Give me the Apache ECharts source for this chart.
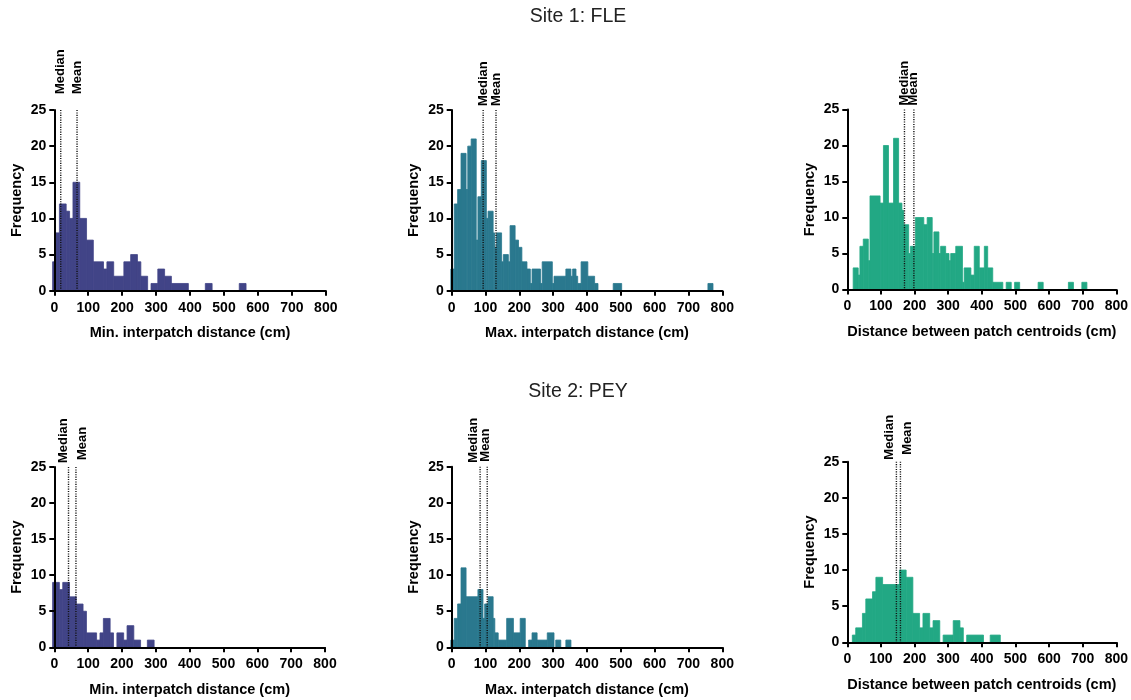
<!DOCTYPE html>
<html><head><meta charset="utf-8">
<script src="https://cdn.jsdelivr.net/npm/echarts@6/dist/echarts.min.js"></script>
<style>html,body{margin:0;padding:0;background:#fff}#chart{width:1131px;height:700px}</style>
</head><body><div id="chart"></div>
<script>
// ---------------- data ----------------
const siteTitles = ['Site 1: FLE', 'Site 2: PEY'];
const xAxisTitles = ['Min. interpatch distance (cm)', 'Max. interpatch distance (cm)', 'Distance between patch centroids (cm)'];
const yAxisTitle = 'Frequency';
const xTicks = [0, 100, 200, 300, 400, 500, 600, 700, 800];
const yTicks = [0, 5, 10, 15, 20, 25];
const statNames = ['Median', 'Mean'];

// Site 1: FLE  (bin edges in cm, frequency per bin)
const fleMinEdges = [-5,5,15,35,45,55,75,95,115,145,155,175,205,225,245,255,275,285,305,325,345,395,445,465,545,565];
const fleMinCounts = [4,8,12,11,10,15,10,7,4,3,4,2,4,5,4,2,0,1,3,2,1,0,1,0,1];
const fleMinStats = [19, 67];

const fleMaxEdges = [-2.5,7.5,17.5,27.5,42.5,47.5,57.5,72.5,77.5,87.5,102.5,107.5,122.5,127.5,132.5,147.5,152.5,167.5,172.5,187.5,197.5,207.5,222.5,232.5,237.5,262.5,267.5,297.5,302.5,337.5,352.5,357.5,367.5,372.5,382.5,402.5,422.5,432.5,477.5,502.5,757.5,772.5];
const fleMaxCounts = [3,12,14,19,14,20,21,7,13,18,10,11,8,6,8,4,5,4,9,7,6,4,3,1,3,1,4,1,2,3,2,3,2,1,4,2,1,0,1,0,1];
const fleMaxStats = [93, 131];

const fleCenEdges = [17.5,32.5,37.5,47.5,62.5,67.5,97.5,107.5,122.5,137.5,152.5,162.5,167.5,182.5,187.5,202.5,227.5,237.5,252.5,257.5,272.5,277.5,292.5,302.5,307.5,322.5,342.5,347.5,367.5,377.5,392.5,407.5,417.5,432.5,462.5,472.5,487.5,497.5,512.5,567.5,582.5,657.5,672.5,697.5,712.5];
const fleCenCounts = [3,2,6,7,4,13,12,20,12,21,12,11,9,5,6,10,9,10,5,8,5,6,5,4,5,6,1,3,2,6,3,6,3,1,0,1,0,1,0,1,0,1,0,1];
const fleCenStats = [170, 198];

// Site 2: PEY
const peyMinEdges = [-5,15,25,45,65,85,95,125,135,145,165,175,185,205,215,235,255,275,295];
const peyMinCounts = [9,8,9,7,6,5,2,1,2,4,2,0,2,1,3,1,0,1];
const peyMinStats = [42, 64];

const peyMaxEdges = [-2.5,7.5,17.5,27.5,42.5,77.5,92.5,97.5,107.5,122.5,127.5,137.5,162.5,182.5,202.5,217.5,227.5,237.5,252.5,282.5,302.5,307.5,322.5,337.5,352.5];
const peyMaxCounts = [1,4,6,11,7,8,4,6,7,4,2,1,4,2,4,0,1,2,1,2,0,1,0,1];
const peyMaxStats = [84, 105];

const peyCenEdges = [15,25,45,55,75,85,105,155,175,195,215,225,245,255,275,285,315,335,345,355,405,425,455];
const peyCenCounts = [1,2,4,6,7,9,8,10,9,4,2,4,2,3,0,1,3,2,0,1,0,1];
const peyCenStats = [146, 158];

// ---------------- layout / style ----------------
const FONT = '"Liberation Sans", Arial, Helvetica, sans-serif';
const fills = ['#414487', '#2A788E', '#22A884'];
const grids = [
  {left: 54.3, top: 110, width: 271.5, height: 180.7},
  {left: 451.7, top: 110, width: 270.6, height: 180.7},
  {left: 847.3, top: 109.5, width: 271, height: 180},
  {left: 54.3, top: 467, width: 270.7, height: 180.3},
  {left: 451.7, top: 466.7, width: 270.6, height: 180.6},
  {left: 847.3, top: 461.7, width: 271, height: 180.6}
];
// label placement (px): gap above line top, horizontal shift of each label
const statLabelLayout = [
  {gap: [16, 16], dx: [0, 0]},
  {gap: [4, 4], dx: [0, 0]},
  {gap: [4, 4], dx: [0, 0]},
  {gap: [4, 7], dx: [-5, 6]},
  {gap: [4, 5], dx: [-7, -2]},
  {gap: [2, 7], dx: [-7, 7]}
];
const titleLayout = [{x: 578, y: 17}, {x: 578, y: 392}];

const panels = [
  {edges: fleMinEdges, counts: fleMinCounts, stats: fleMinStats, kind: 0},
  {edges: fleMaxEdges, counts: fleMaxCounts, stats: fleMaxStats, kind: 1},
  {edges: fleCenEdges, counts: fleCenCounts, stats: fleCenStats, kind: 2},
  {edges: peyMinEdges, counts: peyMinCounts, stats: peyMinStats, kind: 0},
  {edges: peyMaxEdges, counts: peyMaxCounts, stats: peyMaxStats, kind: 1},
  {edges: peyCenEdges, counts: peyCenCounts, stats: peyCenStats, kind: 2}
];

const yMax = yTicks[yTicks.length - 1];
const chart = echarts.init(document.getElementById('chart'), null, {renderer: 'canvas'});

const xAxes = panels.map((p, i) => ({
  type: 'value', gridIndex: i,
  min: xTicks[0], max: xTicks[xTicks.length - 1], interval: xTicks[1] - xTicks[0],
  name: xAxisTitles[p.kind], nameLocation: 'middle', nameGap: 35,
  nameTextStyle: {fontFamily: FONT, fontWeight: 'bold', fontSize: 14.5, color: '#000'},
  axisLine: {show: true, onZero: false, lineStyle: {color: '#000', width: 2}},
  axisTick: {show: true, length: 5, lineStyle: {color: '#000', width: 2}},
  axisLabel: {margin: 10, fontFamily: FONT, fontWeight: 'bold', fontSize: 14, color: '#000'},
  splitLine: {show: false}, z: 5
}));
const yAxes = panels.map((p, i) => ({
  type: 'value', gridIndex: i,
  min: yTicks[0], max: yMax, interval: yTicks[1] - yTicks[0],
  name: yAxisTitle, nameLocation: 'middle', nameGap: 30,
  nameTextStyle: {fontFamily: FONT, fontWeight: 'bold', fontSize: 14.5, color: '#000'},
  axisLine: {show: true, lineStyle: {color: '#000', width: 2}},
  axisTick: {show: true, length: 5, lineStyle: {color: '#000', width: 2}},
  axisLabel: {margin: 8, fontFamily: FONT, fontWeight: 'bold', fontSize: 14, color: '#000'},
  splitLine: {show: false}, z: 5
}));

const series = [];
panels.forEach((p, i) => {
  series.push({
    type: 'custom', xAxisIndex: i, yAxisIndex: i, z: 2,
    data: p.counts.map((c, k) => [p.edges[k], p.edges[k + 1], c]),
    encode: {x: [0, 1], y: 2},
    renderItem: function (params, api) {
      const c = api.value(2);
      if (!c) return null;
      const a = api.coord([api.value(0), c]);
      const b = api.coord([api.value(1), 0]);
      return {type: 'rect', shape: {x: a[0], y: a[1], width: b[0] - a[0], height: b[1] - a[1]},
        style: {fill: fills[p.kind], stroke: fills[p.kind], lineWidth: 0.8}};
    }
  });
  const lay = statLabelLayout[i];
  series.push({
    type: 'custom', xAxisIndex: i, yAxisIndex: i, z: 4,
    data: p.stats.map((v, k) => [v, yMax, k]),
    encode: {x: 0, y: 1},
    renderItem: function (params, api) {
      const k = api.value(2);
      const top = api.coord([api.value(0), api.value(1)]);
      const bot = api.coord([api.value(0), 0]);
      return {type: 'group', children: [
        {type: 'line', shape: {x1: top[0], y1: top[1], x2: bot[0], y2: bot[1]},
          style: {stroke: '#111', lineWidth: 1.4, lineDash: [1.1, 1.3]}},
        {type: 'text', x: top[0] + lay.dx[k], y: top[1] - lay.gap[k], rotation: Math.PI / 2,
          style: {text: statNames[k], fill: '#000', fontFamily: FONT, fontWeight: 'bold', fontSize: 13,
            align: 'left', verticalAlign: 'middle'}}
      ]};
    }
  });
});

chart.setOption({
  animation: false,
  backgroundColor: '#fff',
  grid: grids,
  xAxis: xAxes,
  yAxis: yAxes,
  series: series,
  graphic: siteTitles.map((t, i) => ({
    type: 'text', x: titleLayout[i].x, y: titleLayout[i].y,
    style: {text: t, fill: '#222', fontFamily: FONT, fontSize: 19.5, align: 'center', verticalAlign: 'middle'}
  }))
});
</script></body></html>
